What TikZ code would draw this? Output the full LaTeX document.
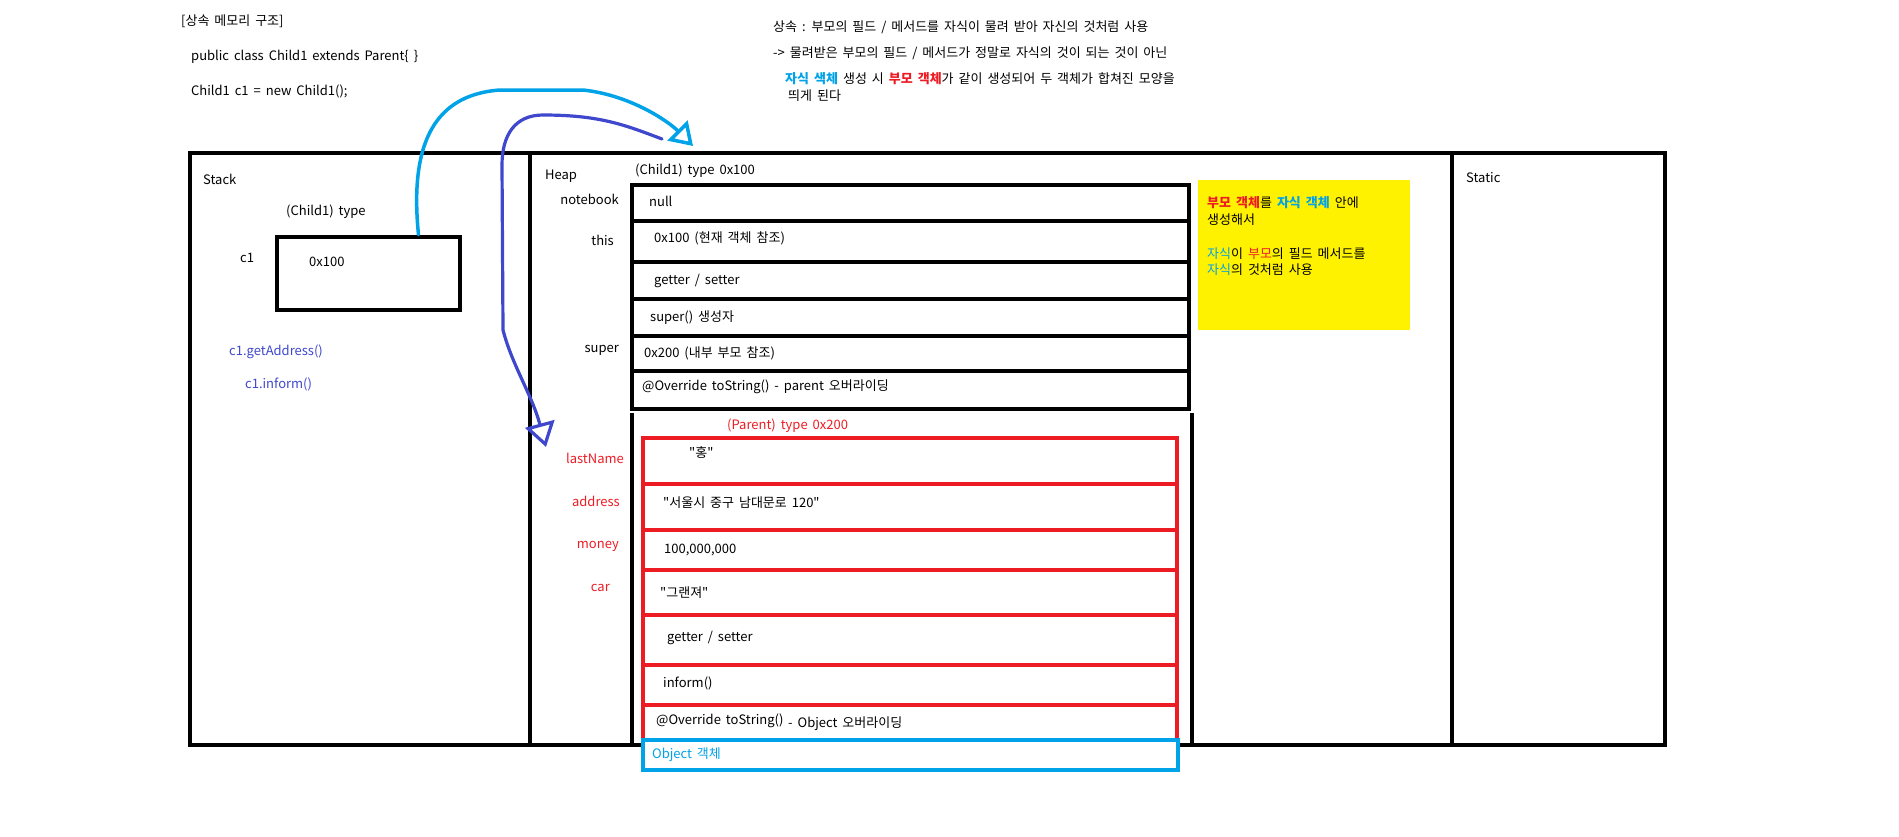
\documentclass[tikz,border=0pt]{standalone}
\usepackage{fontspec}
\setmainfont{Noto Sans CJK KR}[Ligatures=TeXOff, WordSpace=1.7]
\usetikzlibrary{arrows.meta}
\definecolor{paintred}{RGB}{237,28,36}
\definecolor{paintcyan}{RGB}{0,162,232}
\definecolor{paintblue}{RGB}{63,72,204}
\definecolor{paintyellow}{RGB}{255,242,0}

\begin{document}
\begin{tikzpicture}[x=1pt, y=-1pt,
        font=\fontsize{13pt}{16.5pt}\selectfont,
        txt/.style={inner sep=0pt, anchor=west},
        lbl/.style={inner sep=0pt, anchor=east},
        blackrow/.style={rectangle, draw, line width=4.5pt, minimum width=557pt, inner sep=0pt},
        redrow/.style={rectangle, draw=paintred, line width=4pt, minimum width=534pt, inner sep=0pt},
        cyanline/.style={draw=paintcyan, line width=3.5pt, line cap=round, line join=round,
            -{Triangle[open, length=22pt, width=28pt]}},
        blueline/.style={draw=paintblue, line width=3.2pt, line cap=round, line join=round,
            -{Triangle[open, length=24pt, width=30pt]}},
        ]
        \useasboundingbox (0,0) rectangle (1899,836);

        % notes on top
        \node[txt] (title) at (181,21) {[상속 메모리 구조]};
        \node[txt] (classdecl) at (191,57) {public class Child1 extends Parent\{ \}};
        \node[txt] (newchild) at (191,91) {Child1 c1 = new Child1();};
        \node[txt] (noteA) at (773,27) {상속 : 부모의 필드 / 메서드를 자식이 물려 받아 자신의 것처럼 사용};
        \node[txt] (noteB) at (773,53) {-> 물려받은 부모의 필드 / 메서드가 정말로 자식의 것이 되는 것이 아닌};
        \node[txt] (noteC) at (785,79) {{\bfseries\color{paintcyan}자식 색체} 생성 시 {\bfseries\color{paintred}부모 객체}가 같이 생성되어 두 객체가 합쳐진 모양을};
        \node[txt] (noteD) at (788,96) {띄게 된다};

        % memory frame
        \node[rectangle, 
        draw, 
        line width=4.5pt,
        minimum width=1475pt,
        minimum height=592pt,
        ] (memory) at (927.5,449) {};
        \draw[line width=4.5pt] (530,153) -- (530,745);
        \draw[line width=4.5pt] (1452,153) -- (1452,745);

        % stack
        \node[txt] (stacklbl) at (203,179) {Stack};
        \node[txt] (c1type) at (286,212) {(Child1) type};
        \node[txt] (c1lbl) at (240,258) {c1};
        \node[rectangle, 
        draw, 
        line width=4.5pt,
        minimum width=183pt,
        minimum height=73pt,
        ] (c1box) at (368.5,273.5) {};
        \node[txt] (c1val) at (309,262) {0x100};
        \node[txt, text=paintblue] (getaddr) at (229,352) {c1.getAddress()};
        \node[txt, text=paintblue] (informcall) at (245,384) {c1.inform()};

        % heap : child object
        \node[txt] (heaplbl) at (545,176) {Heap};
        \node[txt] (childtitle) at (635,171) {(Child1) type 0x100};
        \node[blackrow, minimum height=36pt] (notebookrow) at (910.5,203) {};
        \node[blackrow, minimum height=41pt] (thisrow) at (910.5,241.5) {};
        \node[blackrow, minimum height=37pt] (getsetrow) at (910.5,280.5) {};
        \node[blackrow, minimum height=37pt] (ctorrow) at (910.5,317.5) {};
        \node[blackrow, minimum height=35pt] (superrow) at (910.5,353.5) {};
        \node[blackrow, minimum height=38pt] (tostringrow) at (910.5,390) {};
        \node[lbl] (notebooklbl) at (619,199) {notebook};
        \node[lbl] (thislbl) at (614,240) {this};
        \node[lbl] (superlbl) at (619,350) {super};
        \node[txt] (nullval) at (649,201) {null};
        \node[txt] (thisval) at (654,238) {0x100 (현재 객체 참조)};
        \node[txt] (getsetval) at (654,281) {getter / setter};
        \node[txt] (ctorval) at (650,318) {super() 생성자};
        \node[txt] (superval) at (644,353) {0x200 (내부 부모 참조)};
        \node[txt] (tostringval) at (642,387) {@Override toString() - parent 오버라이딩};

        % heap : parent object
        \draw[line width=4.5pt] (632,413) -- (632,745);
        \draw[line width=4.5pt] (1192,413) -- (1192,745);
        \node[txt, text=paintred] (parenttitle) at (727,426) {(Parent) type 0x200};
        \node[redrow, minimum height=46pt] (lastnamerow) at (910,461) {};
        \node[redrow, minimum height=46pt] (addressrow) at (910,507) {};
        \node[redrow, minimum height=40pt] (moneyrow) at (910,550) {};
        \node[redrow, minimum height=45pt] (carrow) at (910,592.5) {};
        \node[redrow, minimum height=50pt] (pgetsetrow) at (910,640) {};
        \node[redrow, minimum height=40pt] (pinformrow) at (910,685) {};
        \node[redrow, minimum height=35pt] (ptostringrow) at (910,722.5) {};
        \node[lbl, text=paintred] (lastnamelbl) at (624,458) {lastName};
        \node[lbl, text=paintred] (addresslbl) at (620,501) {address};
        \node[lbl, text=paintred] (moneylbl) at (619,546) {money};
        \node[lbl, text=paintred] (carlbl) at (610,588) {car};
        \node[txt] (lastnameval) at (689,453) {"홍"};
        \node[txt] (addressval) at (663,503) {"서울시 중구 남대문로 120"};
        \node[txt] (moneyval) at (664,550) {100,000,000};
        \node[txt] (carval) at (660,593) {"그랜져"};
        \node[txt] (pgetsetval) at (667,638) {getter / setter};
        \node[txt] (pinformval) at (663,683) {inform()};
        \node[txt] (ptostringval) at (656,721) {@Override toString()};
        \node[txt] (ptostringnote) at (788,724) {- Object 오버라이딩};
        \node[rectangle, 
        draw=paintcyan, 
        fill=white,
        line width=3.5pt,
        minimum width=535pt,
        minimum height=30pt,
        ] (objectbox) at (910.5,755) {};
        \node[txt, text=paintcyan] (objectlbl) at (652,755) {Object 객체};

        % yellow note
        \node[rectangle, 
        fill=paintyellow,
        minimum width=212pt,
        minimum height=150pt,
        ] (notebox) at (1304,255) {};
        \node[inner sep=0pt, anchor=north west, align=left] (notetext) at (1207,196.5)
            {{\bfseries\color{paintred}부모 객체}를 {\bfseries\color{paintcyan}자식 객체} 안에\\생성해서\\[17.5pt]{\color{paintcyan}자식}이 {\color{paintred}부모}의 필드 메서드를\\{\color{paintcyan}자식}의 것처럼 사용};

        % static
        \node[txt] (staticlbl) at (1466,178) {Static};

        % references
        \coordinate (childref) at (693,146);
        \coordinate (superref) at (662,139);
        \coordinate (parentref) at (546,447);
        \draw[cyanline] ([xshift=50pt]c1box.north) .. controls (410,150) and (430,95) .. (500,90) -- (583,90) .. controls (630,95) and (668,121) .. (childref);
        \draw[blueline] (superref) .. controls (625,125) and (600,115) .. (543,115) .. controls (515,115) and (502,135) .. (502,165) -- (503,330) .. controls (512,365) and (532,395) .. (parentref);

    \end{tikzpicture}
\end{document}
